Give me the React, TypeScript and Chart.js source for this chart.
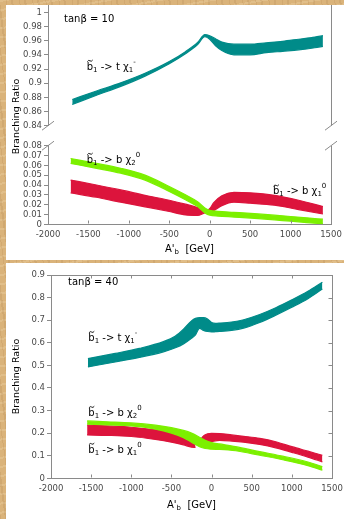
import React, { useEffect, useRef } from 'react';
import { Chart, registerables } from 'chart.js';

Chart.register(...registerables);

const FONT = '"DejaVu Sans", Verdana, sans-serif';
const TEAL = '#008b89';
const RED = '#dc143c';
const GREEN = '#7cf000';
const AXIS = '#8a8a8a';
const TICK_TEXT = '#4a4a4a';

// ---------- ticks ----------
const xTicks = [-2000, -1500, -1000, -500, 0, 500, 1000, 1500];
const yTicksTop10 = [0.84, 0.86, 0.88, 0.9, 0.92, 0.94, 0.96, 0.98, 1];
const yTicksLow10 = [0, 0.01, 0.02, 0.03, 0.04, 0.05, 0.06, 0.07, 0.08];
const yTicks40 = [0, 0.1, 0.2, 0.3, 0.4, 0.5, 0.6, 0.7, 0.8, 0.9];

// ---------- tanβ = 10 ----------
// b~1 -> t χ1-
const tChi10X = [-1700, -1400, -1100, -800, -500, -300, -150, -60, 0, 80, 150, 300, 500, 700, 900, 1100, 1300, 1400];
const tChi10Upper = [0.877, 0.889, 0.9005, 0.914, 0.9305, 0.9445, 0.9575, 0.9685, 0.967, 0.962, 0.958, 0.955, 0.955, 0.957, 0.959, 0.962, 0.965, 0.967];
const tChi10Lower = [0.870, 0.883, 0.8955, 0.910, 0.9275, 0.9415, 0.9545, 0.9655, 0.962, 0.952, 0.946, 0.940, 0.940, 0.943, 0.945, 0.947, 0.950, 0.952];

// b~1 -> b χ2^0
const bChi2_10X = [-1720, -1400, -1100, -800, -500, -300, -150, -50, 0, 100, 300, 600, 900, 1200, 1400];
const bChi2_10Upper = [0.067, 0.062, 0.057, 0.050, 0.0385, 0.030, 0.023, 0.016, 0.0142, 0.0132, 0.0122, 0.0106, 0.0086, 0.0066, 0.0052];
const bChi2_10Lower = [0.062, 0.057, 0.052, 0.045, 0.0335, 0.025, 0.018, 0.011, 0.0094, 0.0084, 0.0074, 0.0058, 0.0038, 0.0018, 0.0004];

// b~1 -> b χ1^0
const bChi1_10X = [-1720, -1400, -1100, -800, -500, -300, -150, -60, 0, 50, 150, 300, 500, 800, 1100, 1400];
const bChi1_10Upper = [0.045, 0.040, 0.035, 0.0295, 0.0245, 0.0205, 0.017, 0.0135, 0.016, 0.022, 0.029, 0.0325, 0.032, 0.0295, 0.0245, 0.018];
const bChi1_10Lower = [0.032, 0.0275, 0.0225, 0.0178, 0.013, 0.0095, 0.009, 0.0115, 0.012, 0.014, 0.019, 0.0225, 0.0215, 0.0195, 0.015, 0.0105];

// ---------- tanβ = 40 ----------
const tChi40X = [-1540, -1200, -900, -600, -450, -350, -250, -200, -150, -100, -50, 0, 50, 100, 250, 400, 600, 800, 1000, 1200, 1380];
const tChi40Upper = [0.530, 0.553, 0.575, 0.605, 0.630, 0.660, 0.697, 0.708, 0.711, 0.711, 0.705, 0.690, 0.686, 0.687, 0.692, 0.702, 0.725, 0.755, 0.790, 0.828, 0.868];
const tChi40Lower = [0.493, 0.515, 0.535, 0.560, 0.578, 0.595, 0.620, 0.635, 0.664, 0.655, 0.650, 0.648, 0.649, 0.650, 0.655, 0.665, 0.690, 0.722, 0.757, 0.795, 0.838];

const bChi2_40X = [-1550, -1300, -1000, -700, -500, -350, -250, -150, -80, 0, 100, 300, 600, 900, 1200, 1380];
const bChi2_40Upper = [0.254, 0.250, 0.245, 0.235, 0.224, 0.212, 0.200, 0.182, 0.168, 0.158, 0.152, 0.140, 0.118, 0.097, 0.072, 0.052];
const bChi2_40Lower = [0.240, 0.236, 0.232, 0.218, 0.200, 0.180, 0.160, 0.140, 0.132, 0.129, 0.128, 0.122, 0.102, 0.081, 0.056, 0.036];

// b~1 -> b χ1^0 (two branches)
const bChi1_40aX = [-1550, -1300, -1000, -700, -500, -350, -250, -200];
const bChi1_40aUpper = [0.236, 0.232, 0.226, 0.215, 0.204, 0.192, 0.180, 0.172];
const bChi1_40aLower = [0.192, 0.190, 0.185, 0.172, 0.160, 0.148, 0.138, 0.137];
const bChi1_40bX = [-150, -100, -50, 0, 100, 250, 400, 600, 800, 1000, 1200, 1380];
const bChi1_40bUpper = [0.165, 0.188, 0.197, 0.199, 0.198, 0.192, 0.186, 0.177, 0.162, 0.140, 0.120, 0.102];
const bChi1_40bLower = [0.160, 0.160, 0.158, 0.162, 0.168, 0.165, 0.160, 0.150, 0.135, 0.115, 0.094, 0.073];

// ---------- text ----------
type Part = { t: string; k?: 'sub' | 'sup' | 'tilde' };
const lblTChi: Part[] = [{ t: 'b', k: 'tilde' }, { t: '1', k: 'sub' }, { t: ' -> t \u03c7' }, { t: '1', k: 'sub' }, { t: '-', k: 'sup' }];
const lblBChi2: Part[] = [{ t: 'b', k: 'tilde' }, { t: '1', k: 'sub' }, { t: ' -> b \u03c7' }, { t: '2', k: 'sub' }, { t: '0', k: 'sup' }];
const lblBChi1: Part[] = [{ t: 'b', k: 'tilde' }, { t: '1', k: 'sub' }, { t: ' -> b \u03c7' }, { t: '1', k: 'sub' }, { t: '0', k: 'sup' }];
const lblTan10: Part[] = [{ t: 'tan\u03b2 = 10' }];
const lblTan40: Part[] = [{ t: 'tan\u03b2 = 40' }];
const xTitle: Part[] = [{ t: "A'" }, { t: 'b', k: 'sub' }, { t: '  [GeV]' }];
const yTitle = 'Branching Ratio';

// annotation anchors in data coordinates [x, y]
const annTop10 = [
  { at: [-1802, 0.9898], parts: lblTan10 },
  { at: [-1521, 0.9228], parts: lblTChi },
];
const annLow10 = [
  { at: [-1521, 0.0654], parts: lblBChi2 },
  { at: [782, 0.0332], parts: lblBChi1 },
];
const ann40 = [
  { at: [-1788, 0.866], parts: lblTan40 },
  { at: [-1535, 0.62], parts: lblTChi },
  { at: [-1535, 0.288], parts: lblBChi2 },
  { at: [-1535, 0.125], parts: lblBChi1 },
];

// ---------- helpers ----------
const fmt = (v: number) => String(parseFloat(Number(v).toFixed(2)));
const pts = (xs: number[], ys: number[]) => xs.map((x, i) => ({ x, y: ys[i] }));

function band(xs: number[], lower: number[], upper: number[], color: string, order: number) {
  const common: any = {
    borderColor: color,
    backgroundColor: color,
    borderWidth: 1.2,
    pointRadius: 0,
    pointHoverRadius: 0,
    cubicInterpolationMode: 'monotone',
    order,
  };
  return [
    { ...common, data: pts(xs, lower), fill: false },
    { ...common, data: pts(xs, upper), fill: '-1' },
  ];
}

function drawRich(ctx: CanvasRenderingContext2D, x: number, y: number, parts: Part[], size: number, align: 'left' | 'center') {
  ctx.save();
  ctx.fillStyle = '#000';
  ctx.textBaseline = 'middle';
  ctx.textAlign = 'left';
  const small = size * 0.7;
  const isSmall = (p: Part) => p.k === 'sub' || p.k === 'sup';
  let w = 0;
  for (const p of parts) {
    ctx.font = `${isSmall(p) ? small : size}px ${FONT}`;
    w += ctx.measureText(p.t).width;
  }
  let cx = align === 'center' ? x - w / 2 : x;
  for (const p of parts) {
    const fs = isSmall(p) ? small : size;
    ctx.font = `${fs}px ${FONT}`;
    const dy = p.k === 'sub' ? size * 0.3 : p.k === 'sup' ? -size * 0.5 : 0;
    ctx.fillText(p.t, cx, y + dy);
    const pw = ctx.measureText(p.t).width;
    if (p.k === 'tilde') {
      ctx.save();
      ctx.strokeStyle = '#000';
      ctx.lineWidth = 0.9;
      const x0 = cx + 0.6;
      const x1 = cx + pw - 0.4;
      const yt = y - size * 0.62;
      ctx.beginPath();
      ctx.moveTo(x0, yt + 0.8);
      ctx.quadraticCurveTo(x0 + (x1 - x0) * 0.25, yt - 1.2, (x0 + x1) / 2, yt);
      ctx.quadraticCurveTo(x0 + (x1 - x0) * 0.75, yt + 1.2, x1, yt - 0.8);
      ctx.stroke();
      ctx.restore();
    }
    cx += pw;
  }
  ctx.restore();
}

function line(ctx: CanvasRenderingContext2D, x1: number, y1: number, x2: number, y2: number) {
  ctx.beginPath();
  ctx.moveTo(x1, y1);
  ctx.lineTo(x2, y2);
  ctx.stroke();
}

type Deco = {
  ann: { at: number[]; parts: Part[] }[];
  yTitle?: { x: number; y: number };
  xTitleY?: number;
  breakBottom?: boolean;
  breakTop?: boolean;
  rightBorder?: boolean;
  rightTicks?: boolean;
  topBorder?: boolean;
  inwardX?: boolean;
};

function decoPlugin(d: Deco) {
  return {
    id: 'deco',
    afterDraw(chart: any) {
      const ctx: CanvasRenderingContext2D = chart.ctx;
      const a = chart.chartArea;
      const xs = chart.scales.x;
      const ys = chart.scales.y;
      ctx.save();
      ctx.strokeStyle = AXIS;
      ctx.lineWidth = 1;
      const R = Math.round(a.right) + 0.5;
      const T = Math.round(a.top) + 0.5;
      const B = Math.round(a.bottom) - 0.5;
      const L = Math.round(a.left) - 0.5;
      if (d.rightBorder) line(ctx, R, a.top, R, a.bottom);
      if (d.topBorder) line(ctx, L, T, R, T);
      if (d.inwardX) {
        for (const v of xTicks) {
          const px = Math.round(xs.getPixelForValue(v)) + 0.5;
          line(ctx, px, B, px, B - 3);
          if (d.topBorder) line(ctx, px, T, px, T + 3);
        }
      }
      if (d.rightTicks) {
        for (const t of ys.ticks) {
          const py = Math.round(ys.getPixelForValue(t.value)) + 0.5;
          line(ctx, R, py, R - 4, py);
        }
      }
      if (d.breakBottom) {
        line(ctx, a.left - 6, a.bottom + 4.5, a.left + 6, a.bottom - 4.5);
        line(ctx, a.right - 6, a.bottom + 4.5, a.right + 6, a.bottom - 4.5);
      }
      if (d.breakTop) {
        line(ctx, a.left - 6, a.top + 4.5, a.left + 6, a.top - 4.5);
        line(ctx, a.right - 6, a.top + 4.5, a.right + 6, a.top - 4.5);
      }
      ctx.restore();

      for (const an of d.ann) {
        drawRich(ctx, xs.getPixelForValue(an.at[0]), ys.getPixelForValue(an.at[1]), an.parts, 10, 'left');
      }
      if (d.xTitleY !== undefined) {
        drawRich(ctx, (a.left + a.right) / 2, d.xTitleY, xTitle, 10, 'center');
      }
      if (d.yTitle) {
        ctx.save();
        ctx.translate(d.yTitle.x, d.yTitle.y);
        ctx.rotate(-Math.PI / 2);
        ctx.fillStyle = '#000';
        ctx.font = `9.5px ${FONT}`;
        ctx.textAlign = 'center';
        ctx.textBaseline = 'middle';
        ctx.fillText(yTitle, 0, 0);
        ctx.restore();
      }
    },
  };
}

function yScale(min: number, max: number, ticks: number[], width: number) {
  return {
    type: 'linear',
    min,
    max,
    afterBuildTicks: (s: any) => {
      s.ticks = ticks.map((v) => ({ value: v }));
    },
    afterFit: (s: any) => {
      s.width = width;
      s.paddingTop = 0;
      s.paddingBottom = 0;
      s.paddingLeft = 0;
      s.paddingRight = 0;
    },
    ticks: {
      autoSkip: false,
      color: TICK_TEXT,
      font: { family: FONT, size: 8.5 },
      padding: 2,
      callback: (v: any) => fmt(v),
    },
    grid: { drawOnChartArea: false, drawTicks: true, tickLength: 4, color: AXIS, lineWidth: 1 },
    border: { display: true, color: AXIS, width: 1 },
  };
}

function xScale(show: boolean, height: number) {
  return {
    type: 'linear',
    display: show,
    min: -2000,
    max: 1500,
    afterBuildTicks: (s: any) => {
      s.ticks = xTicks.map((v) => ({ value: v }));
    },
    afterFit: (s: any) => {
      s.height = height;
      s.paddingTop = 0;
      s.paddingBottom = 0;
      s.paddingLeft = 0;
      s.paddingRight = 0;
    },
    ticks: {
      autoSkip: false,
      maxRotation: 0,
      color: TICK_TEXT,
      font: { family: FONT, size: 8.5 },
      padding: 5,
      callback: (v: any) => String(v),
    },
    grid: { drawOnChartArea: false, drawTicks: false, color: AXIS },
    border: { display: true, color: AXIS, width: 1 },
  };
}

function baseOptions(padding: any, scales: any) {
  return {
    responsive: false,
    animation: false,
    devicePixelRatio: 1,
    events: [],
    layout: { padding },
    plugins: { legend: { display: false }, tooltip: { enabled: false }, title: { display: false } },
    scales,
  };
}

const cfgTop10 = () => ({
  type: 'line',
  data: { datasets: [...band(tChi10X, tChi10Lower, tChi10Upper, TEAL, 1)] },
  options: baseOptions(
    { left: 0, right: 13, top: 5, bottom: 134.3 },
    { x: xScale(false, 0), y: yScale(0.84, 1.0103, yTicksTop10, 48) }
  ),
  plugins: [decoPlugin({ ann: annTop10, yTitle: { x: 16.5, y: 116.5 }, breakBottom: true, rightBorder: true })],
});

const cfgLow10 = () => ({
  type: 'line',
  data: {
    datasets: [
      ...band(bChi1_10X, bChi1_10Lower, bChi1_10Upper, RED, 2),
      ...band(bChi2_10X, bChi2_10Lower, bChi2_10Upper, GREEN, 1),
    ],
  },
  options: baseOptions(
    { left: 0, right: 13, top: 145.7, bottom: 0 },
    { x: xScale(true, 35.7), y: yScale(0, 0.08, yTicksLow10, 48) }
  ),
  plugins: [decoPlugin({ ann: annLow10, xTitleY: 249, breakTop: true, rightBorder: true, inwardX: true })],
});

const cfg40 = () => ({
  type: 'line',
  data: {
    datasets: [
      ...band(tChi40X, tChi40Lower, tChi40Upper, TEAL, 3),
      ...band(bChi1_40aX, bChi1_40aLower, bChi1_40aUpper, RED, 2),
      ...band(bChi1_40bX, bChi1_40bLower, bChi1_40bUpper, RED, 2),
      ...band(bChi2_40X, bChi2_40Lower, bChi2_40Upper, GREEN, 1),
    ],
  },
  options: baseOptions(
    { left: 0, right: 12, top: 15, bottom: 0 },
    { x: xScale(true, 40.7), y: yScale(0, 0.9, yTicks40, 51) }
  ),
  plugins: [
    decoPlugin({
      ann: ann40,
      yTitle: { x: 16.5, y: 116.5 },
      xTitleY: 245,
      rightBorder: true,
      rightTicks: true,
      topBorder: true,
      inwardX: true,
    }),
  ],
});

function ChartCanvas({ make, top, width, height }: { make: () => any; top: number; width: number; height: number }) {
  const ref = useRef<HTMLCanvasElement>(null);
  useEffect(() => {
    const chart = new Chart(ref.current as HTMLCanvasElement, make());
    return () => chart.destroy();
  }, []);
  return (
    <canvas
      ref={ref}
      width={width}
      height={height}
      style={{ position: 'absolute', left: 0, top, width, height, display: 'block' }}
    />
  );
}

export default function App() {
  const parchment: React.CSSProperties = {
    position: 'absolute',
    left: 0,
    top: 0,
    width: 344,
    height: 519,
    overflow: 'hidden',
    backgroundColor: '#dab37a',
    backgroundImage:
      'repeating-linear-gradient(82deg, rgba(150,95,40,0.12) 0px, rgba(150,95,40,0.12) 1px, rgba(0,0,0,0) 1px, rgba(0,0,0,0) 5px, rgba(120,75,30,0.10) 5px, rgba(120,75,30,0.10) 7px, rgba(0,0,0,0) 7px, rgba(0,0,0,0) 13px),' +
      'repeating-linear-gradient(170deg, rgba(255,240,205,0.18) 0px, rgba(255,240,205,0.18) 2px, rgba(0,0,0,0) 2px, rgba(0,0,0,0) 9px)',
  };
  return (
    <div style={parchment}>
      <div style={{ position: 'absolute', left: 6, top: 5, width: 338, height: 255, background: '#fff' }} />
      <div style={{ position: 'absolute', left: 6, top: 263, width: 338, height: 256, background: '#fff' }} />
      <ChartCanvas make={cfgTop10} top={0} width={344} height={260} />
      <ChartCanvas make={cfgLow10} top={0} width={344} height={260} />
      <ChartCanvas make={cfg40} top={260} width={344} height={259} />
    </div>
  );
}
